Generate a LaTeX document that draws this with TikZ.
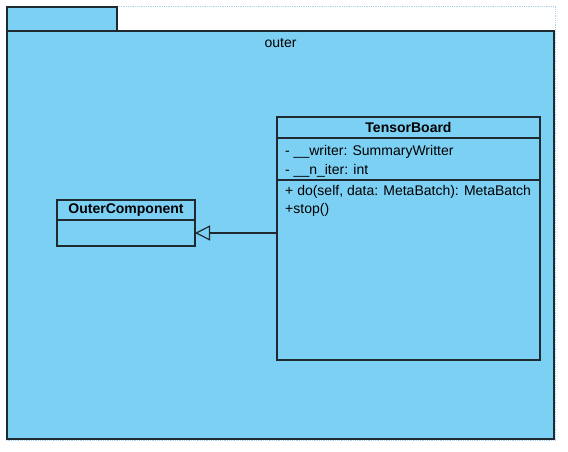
\documentclass[tikz,border=0pt]{standalone}
\usepackage{fontspec}
\setmainfont{Liberation Sans}
\definecolor{clPackage}{HTML}{7BD0F4}
\definecolor{clLine}{HTML}{1F2A30}
\definecolor{clSelect}{HTML}{A8D4F2}
\usetikzlibrary{arrows.meta,positioning}
\tikzset{
  pkg/.style={rectangle, draw=clLine, fill=clPackage, line width=1.2pt,
              inner sep=0pt, outer sep=0pt},
  classhead/.style={pkg, font=\fontsize{14}{16}\selectfont\bfseries},
  classpart/.style={pkg, anchor=north},
  member/.style={anchor=west, inner sep=0pt, font=\fontsize{14}{16}\selectfont},
  selframe/.style={draw=clSelect, densely dotted, line width=0.8pt},
  inherit/.style={-{Triangle[open, length=15pt, width=15pt]}, draw=clLine, line width=1.2pt},
}
\begin{document}
\begin{tikzpicture}[x=1pt, y=-1pt]
  \useasboundingbox (0,0) rectangle (568,452);
  % selection frame round the package
  \draw[selframe] (6,6) rectangle (555,440);
  % package outer
  \node[pkg, anchor=north west, minimum width=110pt, minimum height=24pt] (tab) at (7,7) {};
  \node[pkg, anchor=north west, minimum width=547pt, minimum height=408pt] (outer) at (7,31) {};
  \node[member, anchor=center] (outerlbl) at ([yshift=-12pt]outer.north) {outer};
  % class TensorBoard
  \node[classhead, anchor=north west, minimum width=263pt, minimum height=21pt] (tbhead) at (277,117) {TensorBoard};
  \node[classpart, below=0pt of tbhead, minimum width=263pt, minimum height=42pt] (tbattr) {};
  \node[classpart, below=0pt of tbattr, minimum width=263pt, minimum height=180pt] (tbops) {};
  \node[member] (writer) at ([xshift=8pt, yshift=-14pt]tbattr.north west) {- \_\_writer: SummaryWritter};
  \node[member] (niter) at ([xshift=8pt, yshift=-33pt]tbattr.north west) {- \_\_n\_iter: int};
  \node[member] (opdo) at ([xshift=8pt, yshift=-12pt]tbops.north west) {+ do(self, data: MetaBatch): MetaBatch};
  \node[member] (opstop) at ([xshift=8pt, yshift=-30pt]tbops.north west) {+stop()};
  % class OuterComponent
  \node[classhead, anchor=north west, minimum width=138pt, minimum height=20pt] (ochead) at (57,200) {OuterComponent};
  \node[classpart, below=0pt of ochead, minimum width=138pt, minimum height=26pt] (ocbody) {};
  % generalisation
  \draw[inherit] (tbops.west |- ocbody.center) -- (ocbody.east);
\end{tikzpicture}
\end{document}
